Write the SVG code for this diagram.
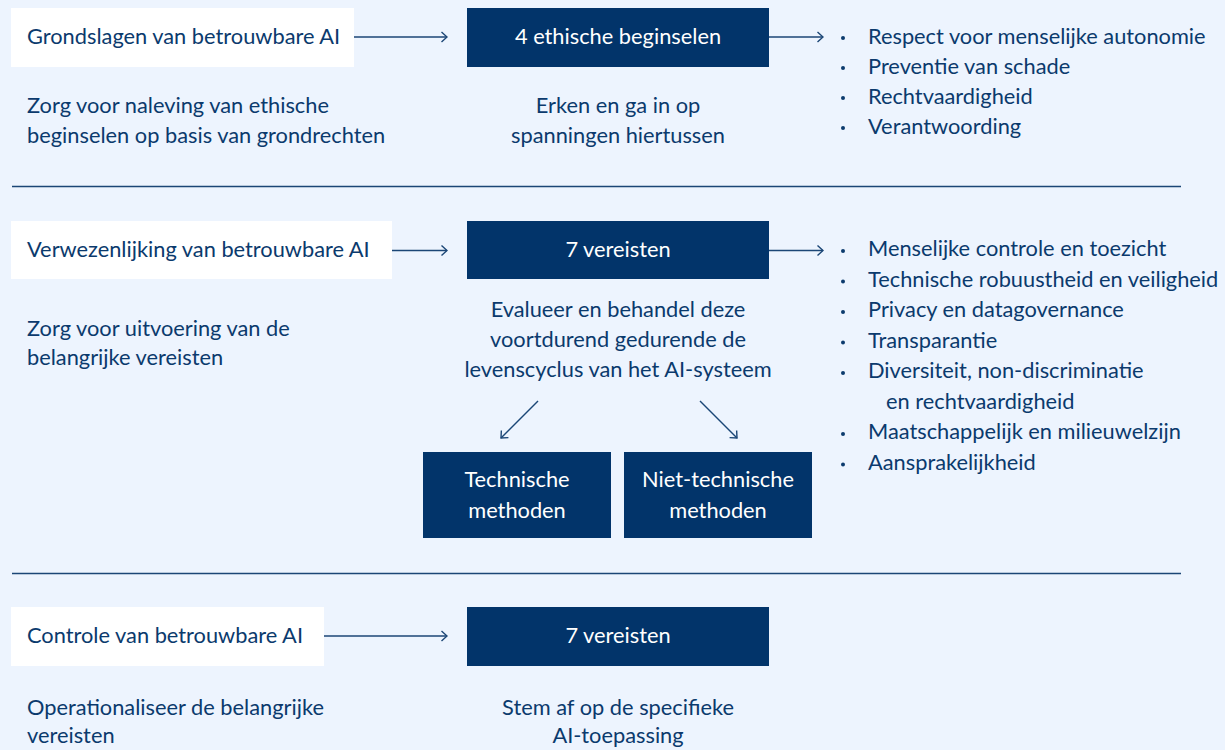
<svg xmlns="http://www.w3.org/2000/svg" width="1225" height="750" viewBox="0 0 1225 750">
  <style>
    text { font-family: Lato, "Liberation Sans", sans-serif; font-size: 21.8px; fill: #0b3a6d; }
    .label { fill: #ffffff; }
    .mid { text-anchor: middle; }
    .card { fill: #ffffff; }
    .dark { fill: #02346a; }
    .rule { stroke: #1b4676; stroke-width: 1.3; }
    .wire { stroke: #1b4676; stroke-width: 1.4; fill: none; marker-end: url(#chev); }
    .dot { fill: #0b3a6d; }
  </style>
  <defs>
    <marker id="chev" viewBox="0 0 10 12" refX="9" refY="6" markerWidth="10" markerHeight="12" markerUnits="userSpaceOnUse" orient="auto">
      <path d="M3.5,1 L9,6 L3.5,11" fill="none" stroke="#1b4676" stroke-width="1.4"/>
    </marker>
  </defs>

  <rect width="1225" height="750" fill="#edf4fe"/>

  <!-- section dividers -->
  <g id="dividers">
    <line class="rule" x1="12" y1="186.5" x2="1181" y2="186.5"/>
    <line class="rule" x1="12" y1="573.5" x2="1181" y2="573.5"/>
  </g>

  <!-- connectors -->
  <g id="connectors">
    <line class="wire" x1="354" y1="37" x2="447" y2="37"/>
    <line class="wire" x1="769" y1="37" x2="823" y2="37"/>
    <line class="wire" x1="392" y1="250.5" x2="447" y2="250.5"/>
    <line class="wire" x1="769" y1="250.5" x2="823" y2="250.5"/>
    <line class="wire" x1="538" y1="401" x2="501" y2="438"/>
    <line class="wire" x1="700" y1="401" x2="737" y2="438"/>
    <line class="wire" x1="324" y1="636" x2="447" y2="636"/>
  </g>

  <!-- row 1: foundations -->
  <g id="grondslagen">
    <rect class="card" x="11" y="8" width="343" height="59"/>
    <text x="27" y="44">Grondslagen van betrouwbare AI</text>
  </g>
  <g id="grondslagen-desc">
    <text x="27" y="113">Zorg voor naleving van ethische</text>
    <text x="27" y="143">beginselen op basis van grondrechten</text>
  </g>
  <g id="beginselen">
    <rect class="dark" x="467" y="8" width="302" height="59"/>
    <text class="label mid" x="618" y="44">4 ethische beginselen</text>
  </g>
  <g id="beginselen-desc">
    <text class="mid" x="618" y="113">Erken en ga in op</text>
    <text class="mid" x="618" y="143">spanningen hiertussen</text>
  </g>
  <g id="beginselen-list">
    <circle class="dot" cx="843" cy="38" r="2"/>
    <circle class="dot" cx="843" cy="68" r="2"/>
    <circle class="dot" cx="843" cy="98" r="2"/>
    <circle class="dot" cx="843" cy="128" r="2"/>
    <text x="868" y="44">Respect voor menselijke autonomie</text>
    <text x="868" y="74">Preventie van schade</text>
    <text x="868" y="104">Rechtvaardigheid</text>
    <text x="868" y="134">Verantwoording</text>
  </g>

  <!-- row 2: realisation -->
  <g id="verwezenlijking">
    <rect class="card" x="11" y="221" width="381" height="58"/>
    <text x="27" y="257">Verwezenlijking van betrouwbare AI</text>
  </g>
  <g id="verwezenlijking-desc">
    <text x="27" y="336">Zorg voor uitvoering van de</text>
    <text x="27" y="365">belangrijke vereisten</text>
  </g>
  <g id="vereisten">
    <rect class="dark" x="467" y="221" width="302" height="58"/>
    <text class="label mid" x="618" y="257">7 vereisten</text>
  </g>
  <g id="vereisten-desc">
    <text class="mid" x="618" y="317">Evalueer en behandel deze</text>
    <text class="mid" x="618" y="347">voortdurend gedurende de</text>
    <text class="mid" x="618" y="377">levenscyclus van het AI-systeem</text>
  </g>
  <g id="vereisten-list">
    <circle class="dot" cx="843" cy="251" r="2"/>
    <circle class="dot" cx="843" cy="281.5" r="2"/>
    <circle class="dot" cx="843" cy="312" r="2"/>
    <circle class="dot" cx="843" cy="342.5" r="2"/>
    <circle class="dot" cx="843" cy="373" r="2"/>
    <circle class="dot" cx="843" cy="434" r="2"/>
    <circle class="dot" cx="843" cy="464.5" r="2"/>
    <text x="868" y="256">Menselijke controle en toezicht</text>
    <text x="868" y="286.5">Technische robuustheid en veiligheid</text>
    <text x="868" y="317">Privacy en datagovernance</text>
    <text x="868" y="347.5">Transparantie</text>
    <text x="868" y="378">Diversiteit, non-discriminatie</text>
    <text x="886" y="408.5">en rechtvaardigheid</text>
    <text x="868" y="439">Maatschappelijk en milieuwelzijn</text>
    <text x="868" y="469.5">Aansprakelijkheid</text>
  </g>
  <g id="technisch">
    <rect class="dark" x="423" y="452" width="188" height="86"/>
    <text class="label mid" x="517" y="487">Technische</text>
    <text class="label mid" x="517" y="518">methoden</text>
  </g>
  <g id="niet-technisch">
    <rect class="dark" x="624" y="452" width="188" height="86"/>
    <text class="label mid" x="718" y="487">Niet-technische</text>
    <text class="label mid" x="718" y="518">methoden</text>
  </g>

  <!-- row 3: assessment -->
  <g id="controle">
    <rect class="card" x="11" y="607" width="313" height="59"/>
    <text x="27" y="643">Controle van betrouwbare AI</text>
  </g>
  <g id="controle-desc">
    <text x="27" y="715">Operationaliseer de belangrijke</text>
    <text x="27" y="743">vereisten</text>
  </g>
  <g id="controle-vereisten">
    <rect class="dark" x="467" y="607" width="302" height="59"/>
    <text class="label mid" x="618" y="643">7 vereisten</text>
  </g>
  <g id="controle-vereisten-desc">
    <text class="mid" x="618" y="715">Stem af op de specifieke</text>
    <text class="mid" x="618" y="743">AI-toepassing</text>
  </g>
</svg>
